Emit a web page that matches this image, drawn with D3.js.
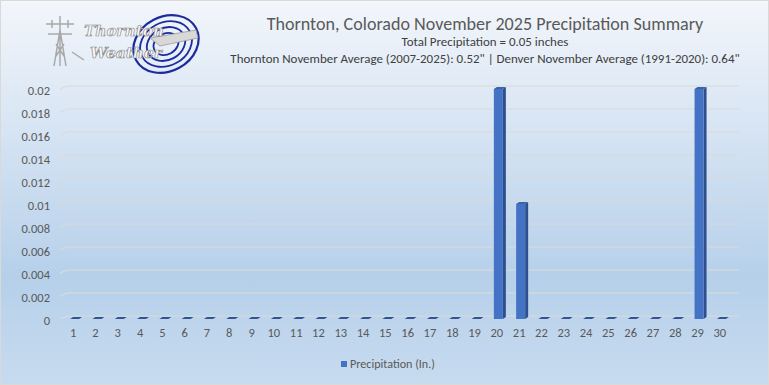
<!DOCTYPE html>
<html>
<head>
<meta charset="utf-8">
<script src="https://cdn.jsdelivr.net/npm/d3@7"></script>
<style>
  body { margin: 0; background: #fff; }
  svg { display: block; font-family: Calibri, Carlito, "Open Sans", "Liberation Sans", sans-serif; }
</style>
</head>
<body>
<svg id="chart"></svg>
<script>
// chart data
var days = [1,2,3,4,5,6,7,8,9,10,11,12,13,14,15,16,17,18,19,20,21,22,23,24,25,26,27,28,29,30]
var precip = [0,0,0,0,0,0,0,0,0,0,0,0,0,0,0,0,0,0,0,0.02,0.01,0,0,0,0,0,0,0,0.02,0]
var yTicks = [0,0.002,0.004,0.006,0.008,0.01,0.012,0.014,0.016,0.018,0.02]
var yTickLabels = ["0","0.002","0.004","0.006","0.008","0.01","0.012","0.014","0.016","0.018","0.02"]
var titleText = "Thornton, Colorado November 2025 Precipitation Summary"
var subtitle1 = "Total Precipitation = 0.05 inches"
var subtitle2 = "Thornton November Average (2007-2025): 0.52\" | Denver November Average (1991-2020): 0.64\""
var seriesName = "Precipitation (In.)"

var screen = {width:769, height:385}
var wall = {dx:7, dy:-3}      // back wall offset
var depth = {dx:3, dy:-2}     // bar depth

var svg = d3.select("#chart")
    .attr("width",screen.width)
    .attr("height",screen.height)

var defs = svg.append("defs")
var grad = defs.append("linearGradient")
    .attr("id","bg")
    .attr("x1",0).attr("y1",0).attr("x2",0).attr("y2",1)
grad.append("stop").attr("offset","0%").attr("stop-color","#f3f6fb")
grad.append("stop").attr("offset","72%").attr("stop-color","#b6d0ea")
grad.append("stop").attr("offset","100%").attr("stop-color","#c7dbef")

svg.append("rect")
    .attr("x",0.5).attr("y",0.5)
    .attr("width",screen.width-1).attr("height",screen.height-1)
    .attr("fill","url(#bg)")
    .attr("stroke","#d9d9d9")

// fit a text to a measured width
var fitText = function(sel,width)
{
    var w = sel.node().getComputedTextLength()
    var fs = parseFloat(sel.attr("font-size"))
    sel.attr("font-size",fs*width/w)
}

// logo (rough drawing)
var logo = svg.append("g")
var rings = [34,27,20,13]
rings.forEach(function(r,i)
{
    logo.append("ellipse")
        .attr("cx",166).attr("cy",44)
        .attr("rx",r).attr("ry",r*0.8)
        .attr("transform","rotate(-28,166,44)")
        .attr("fill","none")
        .attr("stroke","#1c2c9e")
        .attr("stroke-width",i==0?2.2:1.8)
})
logo.append("path")
    .attr("d","M150,38 L196,30 L198,38 L160,46 Z")
    .attr("fill","#d8d8d8").attr("stroke","#9a9a9a").attr("stroke-width",0.8)
var tower = logo.append("g").attr("stroke","#a9a9a9").attr("stroke-width",1.5).attr("fill","none")
tower.append("path").attr("d","M60,16 L60,66 M54,66 L60,30 L66,66 M46,24 L74,24 M48,34 L72,34 M52,20 L52,28 M68,20 L68,28 M56,44 L64,56 M64,44 L56,56 M72,52 L84,60")
var lg1 = logo.append("text")
    .attr("x",84).attr("y",36)
    .attr("font-family","DejaVu Serif, serif")
    .attr("font-style","italic").attr("font-weight","bold")
    .attr("font-size",17)
    .attr("fill","#fafafa").attr("stroke","#8c8c8c").attr("stroke-width",0.7)
    .text("Thornton")
fitText(lg1,80)
var lg2 = logo.append("text")
    .attr("x",90).attr("y",58)
    .attr("font-family","DejaVu Serif, serif")
    .attr("font-style","italic").attr("font-weight","bold")
    .attr("font-size",17)
    .attr("fill","#fafafa").attr("stroke","#8c8c8c").attr("stroke-width",0.7)
    .text("Weather")
fitText(lg2,72)

var t1 = svg.append("text").attr("x",485).attr("y",30)
    .attr("text-anchor","middle").attr("font-size",19).attr("fill","#595959")
    .text(titleText)
fitText(t1,437)
var t2 = svg.append("text").attr("x",485).attr("y",46)
    .attr("text-anchor","middle").attr("font-size",12).attr("fill","#404040")
    .text(subtitle1)
fitText(t2,167)
var t3 = svg.append("text").attr("x",485).attr("y",63)
    .attr("text-anchor","middle").attr("font-size",12).attr("fill","#404040")
    .text(subtitle2)
fitText(t3,510)

var xScale = d3.scaleBand()
    .domain(days)
    .range([62,731])

var yScale = d3.scaleLinear()
    .domain([0,0.02])
    .range([319,89])

var xLeft = 60, xRight = 739 - wall.dx

// gridlines (left wall diagonal + back wall)
var grid = svg.append("g")
grid.selectAll("path")
    .data(yTicks)
    .enter()
    .append("path")
    .attr("d",function(v)
    {
        var y = yScale(v)
        return "M"+xLeft+","+y+" L"+(xLeft+wall.dx)+","+(y+wall.dy)+" L"+(xRight+wall.dx)+","+(y+wall.dy)
    })
    .attr("fill","none")
    .attr("stroke","#dcdad6")
    .attr("stroke-width",1.2)

// y labels
svg.append("g").selectAll("text")
    .data(yTicks)
    .enter()
    .append("text")
    .attr("x",50)
    .attr("y",function(v){return yScale(v)+5.5})
    .attr("text-anchor","end")
    .attr("font-size",12.5)
    .attr("fill","#595959")
    .text(function(v,i){return yTickLabels[i]})

// x labels
svg.append("g").selectAll("text")
    .data(days)
    .enter()
    .append("text")
    .attr("x",function(d){return xScale(d)+xScale.bandwidth()/2})
    .attr("y",337)
    .attr("text-anchor","middle")
    .attr("font-size",12.5)
    .attr("fill","#595959")
    .text(function(d){return d})

// 3D bars
var bw = 9
var bars = svg.append("g").selectAll("g")
    .data(days)
    .enter()
    .append("g")

var barX = function(d){return xScale(d)+xScale.bandwidth()/2-3}

bars.append("path")  // side
    .attr("d",function(d,i)
    {
        var x = barX(d)+bw, y0 = yScale(0), y1 = yScale(precip[i])
        return "M"+x+","+y0+" L"+(x+depth.dx)+","+(y0+depth.dy)+" L"+(x+depth.dx)+","+(y1+depth.dy)+" L"+x+","+y1+" Z"
    })
    .attr("fill","#2d4f8e")
bars.append("path")  // top
    .attr("d",function(d,i)
    {
        var x = barX(d), y1 = yScale(precip[i])
        return "M"+x+","+y1+" L"+(x+depth.dx)+","+(y1+depth.dy)+" L"+(x+bw+depth.dx)+","+(y1+depth.dy)+" L"+(x+bw)+","+y1+" Z"
    })
    .attr("fill",function(d,i){return precip[i]>0 ? "#3a63ad" : "#2f5597"})
bars.append("rect")  // front
    .attr("x",barX)
    .attr("y",function(d,i){return yScale(precip[i])})
    .attr("width",bw)
    .attr("height",function(d,i){return yScale(0)-yScale(precip[i])})
    .attr("fill","#4472c4")

// legend
var legend = svg.append("g")
legend.append("rect")
    .attr("x",341).attr("y",361).attr("width",6).attr("height",6)
    .attr("fill","#4472c4")
var lt = legend.append("text")
    .attr("x",350).attr("y",368)
    .attr("font-size",12.5)
    .attr("fill","#595959")
    .text(seriesName)
fitText(lt,85)
</script>
</body>
</html>
